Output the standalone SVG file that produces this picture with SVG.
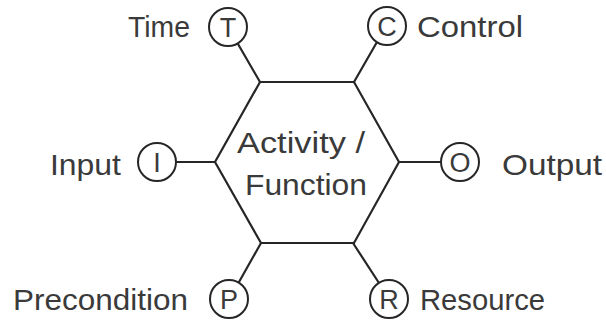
<svg xmlns="http://www.w3.org/2000/svg" width="606" height="320" viewBox="0 0 606 320">
  <style>
    .line { fill: none; stroke: #262626; stroke-width: 2.2; stroke-linecap: round; stroke-linejoin: miter; }
    .ring { fill: #ffffff; stroke: #262626; stroke-width: 2; }
    .label { font-family: "Liberation Sans", Arial, sans-serif; font-size: 30px; fill: #3a3a3a; }
    .letter { font-family: "Liberation Sans", Arial, sans-serif; font-size: 27px; fill: #3a3a3a; text-anchor: middle; }
  </style>
  <rect width="606" height="320" fill="#ffffff"/>

  <!-- spokes from hexagon corners to the ICOM-style port circles -->
  <g id="connectors">
    <line class="line" x1="260" y1="82" x2="238" y2="44"/>
    <line class="line" x1="354" y1="82" x2="377" y2="42"/>
    <line class="line" x1="215" y1="162" x2="176" y2="162"/>
    <line class="line" x1="399" y1="162" x2="441" y2="162"/>
    <line class="line" x1="261" y1="243" x2="239" y2="282"/>
    <line class="line" x1="353" y1="243" x2="379" y2="283"/>
  </g>

  <g id="activity">
    <polygon class="line" points="260,82 354,82 399,162 354,243 261,243 215,162"/>
    <text class="label" x="237" y="153" textLength="128" lengthAdjust="spacingAndGlyphs">Activity /</text>
    <text class="label" x="245" y="195" textLength="122" lengthAdjust="spacingAndGlyphs">Function</text>
  </g>

  <g id="time">
    <circle class="ring" cx="228" cy="27" r="19"/>
    <text class="letter" x="228" y="37">T</text>
    <text class="label" x="128" y="37" textLength="62" lengthAdjust="spacingAndGlyphs">Time</text>
  </g>

  <g id="control">
    <circle class="ring" cx="387" cy="26" r="19"/>
    <text class="letter" x="387" y="36">C</text>
    <text class="label" x="417" y="37" textLength="106" lengthAdjust="spacingAndGlyphs">Control</text>
  </g>

  <g id="input">
    <circle class="ring" cx="157" cy="162" r="19"/>
    <text class="letter" x="157" y="172">I</text>
    <text class="label" x="50" y="175" textLength="71" lengthAdjust="spacingAndGlyphs">Input</text>
  </g>

  <g id="output">
    <circle class="ring" cx="460" cy="162" r="19"/>
    <text class="letter" x="460" y="172">O</text>
    <text class="label" x="502" y="175" textLength="100" lengthAdjust="spacingAndGlyphs">Output</text>
  </g>

  <g id="precondition">
    <circle class="ring" cx="229" cy="299" r="19"/>
    <text class="letter" x="229" y="309">P</text>
    <text class="label" x="13" y="310" textLength="175" lengthAdjust="spacingAndGlyphs">Precondition</text>
  </g>

  <g id="resource">
    <circle class="ring" cx="389" cy="299" r="19"/>
    <text class="letter" x="389" y="309">R</text>
    <text class="label" x="420" y="310" textLength="125" lengthAdjust="spacingAndGlyphs">Resource</text>
  </g>
</svg>
